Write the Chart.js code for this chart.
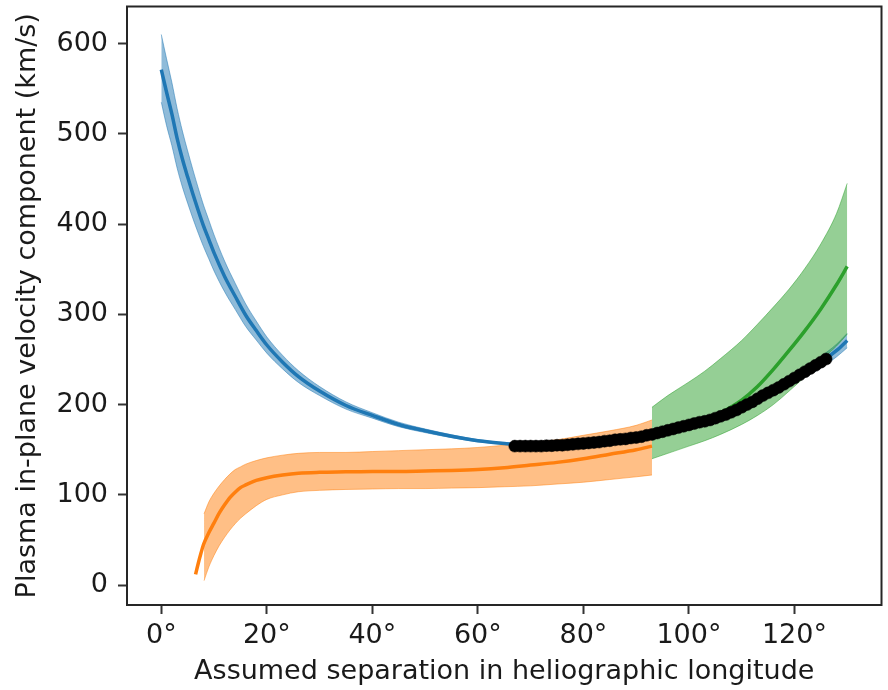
<!DOCTYPE html>
<html>
<head>
<meta charset="utf-8">
<script src="https://cdn.jsdelivr.net/npm/chart.js@4.4.1/dist/chart.umd.min.js"></script>
<style>
  html, body { margin: 0; padding: 0; background: #fff; }
</style>
</head>
<body>
<canvas id="velocityChart" width="888" height="690"></canvas>
<script>
// Blue: solution from the first model, with its uncertainty band
const blueX = [0, 1, 2, 3, 4, 5, 6, 7, 8, 9, 10, 12, 14, 16, 18, 20, 23, 26, 30, 35, 40, 45, 50, 55, 60, 65, 70, 75, 80, 85, 90, 95, 100, 105, 110, 115, 120, 125, 128, 130];
const blueMid = [571, 546, 522, 495, 472, 452, 433, 415, 398, 383, 368, 342, 320, 299, 282, 266, 247, 231, 215, 199, 188, 178, 171, 165, 160, 157, 155, 155, 157, 160, 163.5, 170, 177.5, 185, 197, 213, 229.5, 247, 260, 271];
const blueUpper = [610, 583, 557, 528, 503, 481, 460, 440, 421, 404.5, 388, 359, 334.5, 311.5, 292.5, 275, 254.5, 237.5, 220, 203, 191, 180.5, 173, 166.6, 161.2, 157.8, 155.6, 155.6, 157.8, 161, 164.8, 171.7, 179.7, 187.8, 200.5, 217.5, 235, 253.5, 267, 279];
const blueLower = [535, 509, 487, 462, 441, 423, 406, 390, 375, 361.5, 348, 325, 305.5, 286.5, 271.5, 257, 239.5, 224.5, 210, 195, 185, 175.5, 169, 163.4, 158.8, 156.2, 154.4, 154.4, 156.2, 159, 162.2, 168.3, 175.3, 182.2, 193.5, 208.5, 224, 240.5, 253, 263];

// Orange: second model, band starts a little after the line
const orangeX = [6.5, 7, 7.5, 8, 9, 10, 11, 12, 13, 14, 15, 16, 18, 20, 23, 26, 30, 35, 40, 45, 50, 55, 60, 65, 70, 75, 80, 85, 90, 93];
const orangeMid = [12, 24, 35, 45, 58, 69, 80, 89, 97, 103, 108, 111, 116, 119, 122, 124, 125, 125.5, 126, 126, 126.5, 127, 128, 130, 133, 136, 140, 145, 150, 154];
const orangeBandX = [8.1, 9, 10, 11, 12, 13, 14, 15, 16, 18, 20, 23, 26, 30, 35, 40, 45, 50, 55, 60, 65, 70, 75, 80, 85, 90, 93];
const orangeUpper = [79, 92, 102, 110, 117, 123, 128, 131, 134, 138, 141, 144, 146, 147, 147, 148, 149, 150, 151, 152.5, 155, 158, 161, 166, 171, 177, 183];
const orangeLower = [5, 20, 33, 44, 53, 61, 68, 74, 79, 88, 95, 100, 103.5, 105, 106, 106.5, 107, 107, 107.5, 108, 109, 110, 112, 114, 117, 120, 122];

// Green: third model, only valid beyond ~93 degrees
const greenX = [93, 96, 100, 103, 106, 110, 113, 116, 119, 122, 125, 128, 130];
const greenMid = [163, 168, 176, 183, 191, 205, 220, 239, 260, 282, 306, 333, 353];
const greenUpper = [197, 210, 225, 237, 251, 271, 289, 308, 328, 351, 378, 412, 445];
const greenLower = [140, 146, 154, 160, 167, 178, 188, 200, 215, 231, 249, 265, 278];

// Black: measured points
const blackX = [67, 68, 69, 70, 71, 72, 73, 74, 75, 76, 77, 78, 79, 80, 81, 82, 83, 84, 85, 86, 87, 88, 89, 90, 91, 92, 93, 94, 95, 96, 97, 98, 99, 100, 101, 102, 103, 104, 105, 106, 107, 108, 109, 110, 111, 112, 113, 114, 115, 116, 117, 118, 119, 120, 121, 122, 123, 124, 125, 126];
const blackY = [154, 154, 154, 154, 154, 154, 154.5, 154.5, 155, 155, 155.5, 156, 156.5, 157, 157.5, 158, 158.5, 159.5, 160, 161, 161.5, 162, 163, 163.5, 164.5, 166, 167, 168.5, 170, 171.5, 173, 174.5, 176, 177.5, 179, 180.5, 181.5, 183, 185, 187, 189, 191.5, 194, 197, 200, 203, 206.5, 210, 213, 216, 219, 222.5, 226, 229.5, 233, 236.5, 240, 243.5, 247, 250.5];

const xTicks = [0, 20, 40, 60, 80, 100, 120];
const yTicks = [0, 100, 200, 300, 400, 500, 600];

const pts = (xs, ys) => xs.map((x, i) => ({ x: x, y: ys[i] }));

function centerLine(xs, ys, color, order) {
  return {
    data: pts(xs, ys),
    borderColor: color,
    borderWidth: 3.5,
    pointRadius: 0,
    fill: false,
    cubicInterpolationMode: 'monotone',
    order: order
  };
}

// band = upper edge filled down to the dataset right after it
function bandPair(xs, up, low, rgb, order) {
  const face = `rgba(${rgb},0.5)`;
  return [{
    data: pts(xs, up),
    borderColor: face,
    borderWidth: 1,
    backgroundColor: face,
    pointRadius: 0,
    fill: '+1',
    cubicInterpolationMode: 'monotone',
    order: order
  }, {
    data: pts(xs, low),
    borderColor: face,
    borderWidth: 1,
    pointRadius: 0,
    fill: false,
    cubicInterpolationMode: 'monotone',
    order: order
  }];
}

const frame = {
  id: 'frame',
  afterDraw(chart) {
    const { ctx, chartArea: a } = chart;
    ctx.save();
    ctx.strokeStyle = '#262626';
    ctx.lineWidth = 2;
    ctx.strokeRect(a.left, a.top, a.right - a.left, a.bottom - a.top);
    ctx.restore();
  }
};

Chart.defaults.font.family = 'DejaVu Sans';
Chart.defaults.color = '#1a1a1a';

const textFont = { size: 27, family: 'DejaVu Sans' };

new Chart(document.getElementById('velocityChart'), {
  type: 'line',
  data: {
    datasets: [
      {
        data: pts(blackX, blackY),
        showLine: false,
        pointRadius: 6,
        pointBackgroundColor: '#000',
        pointBorderColor: '#000',
        pointBorderWidth: 0.5,
        order: 0
      },
      centerLine(greenX, greenMid, '#2ca02c', 1),
      centerLine(orangeX, orangeMid, '#ff7f0e', 2),
      centerLine(blueX, blueMid, '#1f77b4', 3),
      ...bandPair(greenX, greenUpper, greenLower, '44,160,44', 10),
      ...bandPair(orangeBandX, orangeUpper, orangeLower, '255,127,14', 11),
      ...bandPair(blueX, blueUpper, blueLower, '31,119,180', 12)
    ]
  },
  options: {
    responsive: false,
    animation: false,
    layout: { padding: { top: 2, right: 1, left: 0, bottom: 0 } },
    plugins: { legend: { display: false }, tooltip: { enabled: false } },
    scales: {
      x: {
        type: 'linear',
        min: -6.5,
        max: 136.5,
        afterFit: (s) => { s.height = 85; s.paddingLeft = 0; s.paddingRight = 0; },
        afterBuildTicks: (s) => { s.ticks = xTicks.map(v => ({ value: v })); },
        grid: { drawOnChartArea: false, drawTicks: true, tickLength: 9, tickWidth: 2, tickColor: '#333' },
        border: { display: false },
        ticks: { font: textFont, padding: 6, maxRotation: 0, callback: (v) => v + '°' },
        title: { display: true, text: 'Assumed separation in heliographic longitude', font: textFont, padding: { top: 0, bottom: 2 } }
      },
      y: {
        type: 'linear',
        min: -22,
        max: 641,
        afterFit: (s) => { s.width = 127; s.paddingTop = 0; s.paddingBottom = 0; },
        afterBuildTicks: (s) => { s.ticks = yTicks.map(v => ({ value: v })); },
        grid: { drawOnChartArea: false, drawTicks: true, tickLength: 9, tickWidth: 2, tickColor: '#333' },
        border: { display: false },
        ticks: { font: textFont, padding: 10 },
        title: { display: true, text: 'Plasma in-plane velocity component (km/s)', font: textFont, padding: { top: 12, bottom: 0 } }
      }
    }
  },
  plugins: [frame]
});
</script>
</body>
</html>
